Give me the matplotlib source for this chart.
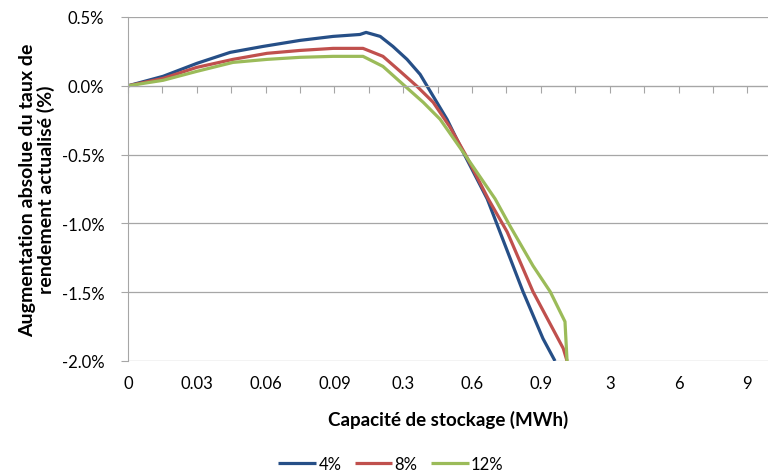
import numpy as np
import matplotlib.pyplot as plt
from matplotlib.ticker import FuncFormatter

plt.rcParams['font.family'] = ['Lato', 'DejaVu Sans']

# category positions (in tick units) and labels
tick_labels = ['0', '0.03', '0.06', '0.09', '0.3', '0.6', '0.9', '3', '6', '9']
tick_pos = [0, 2, 4, 6, 8, 10, 12, 14, 16, 18]

# 4%
x_4 = [0, 1.02, 2.0, 2.97, 3.92, 5.0, 5.96, 6.74, 6.92, 7.33, 7.70, 8.11, 8.49,
       8.87, 9.27, 9.74, 10.44, 10.81, 11.48, 12.06, 12.41]
y_4 = [0, 0.069, 0.163, 0.243, 0.286, 0.33, 0.359, 0.373, 0.388, 0.359, 0.286,
       0.192, 0.083, -0.076, -0.243, -0.482, -0.822, -1.062, -1.496, -1.837, -2.0]
# 8%
x_8 = [0, 1.02, 2.0, 3.05, 4.04, 5.0, 5.96, 6.83, 7.41, 7.91, 8.40, 8.87, 9.36,
       9.80, 10.47, 11.02, 11.77, 12.65, 12.76]
y_8 = [0, 0.054, 0.134, 0.192, 0.236, 0.257, 0.272, 0.272, 0.214, 0.105, -0.004,
       -0.12, -0.301, -0.496, -0.822, -1.062, -1.496, -1.909, -2.0]
# 12%
x_12 = [0, 1.02, 2.0, 3.05, 4.04, 5.0, 5.96, 6.83, 7.41, 7.99, 8.58, 9.07, 9.74,
        10.67, 11.10, 11.77, 12.27, 12.70, 12.76]
y_12 = [0, 0.04, 0.105, 0.170, 0.192, 0.207, 0.214, 0.214, 0.141, 0.011, -0.12,
        -0.243, -0.482, -0.822, -1.018, -1.308, -1.496, -1.714, -2.0]

series = [('4%', x_4, y_4, '#264f87'),
          ('8%', x_8, y_8, '#c0504d'),
          ('12%', x_12, y_12, '#9bbb59')]

fig = plt.figure(figsize=(7.68, 4.77), dpi=100)
ax = fig.add_axes([128/768, 1 - 362/477, 1 - 128/768, (362 - 18)/477])

for name, xs, ys, c in series:
    ax.plot(xs, ys, color=c, lw=2.3, label=name, solid_capstyle='butt', clip_on=True)

ax.set_xlim(0, 18.6)
ax.set_ylim(-2.0, 0.5)
ax.set_yticks(np.arange(-2.0, 0.51, 0.5))
ax.yaxis.set_major_formatter(FuncFormatter(lambda v, p: f'{v:.1f}%'.replace('\u2212', '-')))
ax.yaxis.grid(True, color='#a6a6a6', lw=0.9)
ax.set_axisbelow(True)
ax.tick_params(axis='y', length=5, color='#a6a6a6', labelsize=12, pad=12)

for s in ['top', 'right']:
    ax.spines[s].set_visible(False)
ax.spines['left'].set_color('#a6a6a6')
ax.spines['bottom'].set_position(('data', 0))
ax.spines['bottom'].set_color('#a6a6a6')
ax.set_xticks(np.arange(0, 19, 1))
ax.tick_params(axis='x', length=5, color='#a6a6a6', labelbottom=False)

sec = ax.secondary_xaxis('bottom')
sec.set_xticks(tick_pos, tick_labels)
sec.tick_params(length=0, labelsize=12, pad=10)
sec.spines['bottom'].set_visible(False)
sec.set_xlabel('Capacité de stockage (MWh)', fontsize=13.5, fontweight='bold', labelpad=14)

ax.set_ylabel('Augmentation absolue du taux de\nrendement actualisé (%)',
              fontsize=14, fontweight='bold', labelpad=5, linespacing=1.05,
              multialignment='center')

fig.legend(loc='center', bbox_to_anchor=(391/768, 1 - 465/477), ncol=3, frameon=False,
           fontsize=12, handlelength=2.25, columnspacing=0.8, handletextpad=0.15,
           borderaxespad=0, borderpad=0.2)

fig.savefig('out.png', dpi=100)
